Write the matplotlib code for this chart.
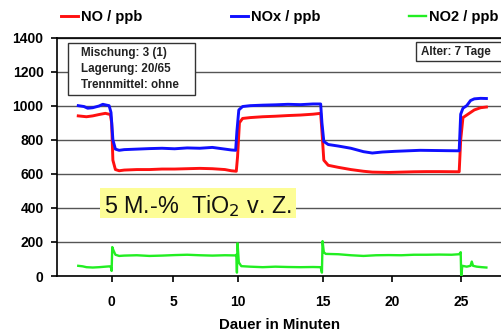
import numpy as np
import matplotlib
matplotlib.use("Agg")
import matplotlib.pyplot as plt
from matplotlib.patches import Rectangle

plt.rcParams["font.family"] = ["Liberation Sans", "DejaVu Sans"]

# x positions follow the category spacing of the original axis
tick_pos = [0, 4.89, 10.0, 16.75, 22.3, 27.78]
tick_labels = ["0", "5", "10", "15", "20", "25"]

nox_x = [-2.65, -2.2, -1.9, -1.5, -1.0, -0.7, -0.4, -0.2, -0.05, 0.1, 0.3, 0.6, 1, 2, 3, 4, 5, 6, 7, 8, 9,
         9.5, 9.85, 9.95, 10.1, 10.4, 11, 12, 13, 14, 15, 16, 16.6, 16.7, 16.85, 17.2, 18, 19, 20, 20.7,
         21.5, 22.5, 23.5, 24.5, 25.5, 26.5, 27.6, 27.72, 27.9, 28.2, 28.5, 28.8, 29.3, 29.76]
nox_y = [1000, 995, 985, 988, 998, 1008, 1003, 1000, 960, 800, 745, 738, 742, 745, 748, 750, 747, 752, 750,
         755, 745, 740, 738, 850, 975, 995, 1000, 1003, 1005, 1008, 1006, 1010, 1010, 900, 790, 772, 763,
         750, 730, 722, 728, 732, 735, 738, 737, 736, 735, 950, 985, 1000, 1030, 1040, 1043, 1042]

no_x = [-2.65, -2.0, -1.5, -1.0, -0.5, -0.1, 0.0, 0.1, 0.3, 0.6, 1, 2, 3, 4, 5, 6, 7, 8, 9, 9.5, 9.9,
        10.0, 10.15, 10.4, 11, 12, 13, 14, 15, 16, 16.6, 16.7, 16.85, 17.2, 18, 19, 20, 20.7, 22, 23, 24,
        25, 26, 27.6, 27.72, 27.9, 28.2, 28.5, 28.8, 29.3, 29.76]
no_y = [940, 935, 940, 948, 955, 948, 900, 680, 625, 618, 622, 625, 625, 628, 628, 630, 632, 630, 625, 618,
        615, 700, 900, 925, 930, 935, 938, 942, 945, 950, 955, 850, 680, 650, 638, 625, 615, 610, 608, 610,
        612, 613, 613, 612, 800, 930, 945, 960, 975, 988, 992]

no2_x = [-2.65, -2.3, -2.0, -1.5, -1.0, -0.5, -0.15, -0.05, 0.0, 0.05, 0.15, 0.3, 0.6, 1, 2, 3, 4, 5, 6, 7,
         8, 9, 9.8, 9.9, 9.95, 10.0, 10.1, 10.3, 11, 12, 13, 14, 15, 16, 16.6, 16.7, 16.75, 16.85, 17, 18,
         19, 20, 21, 22, 23, 24, 25, 26, 27, 27.6, 27.72, 27.76, 27.85, 28.2, 28.5, 28.6, 28.7, 29, 29.4, 29.76]
no2_y = [60, 57, 52, 50, 52, 55, 57, 50, 30, 170, 150, 125, 118, 120, 122, 118, 120, 123, 125, 122, 120, 122,
         121, 125, 20, 192, 80, 58, 55, 52, 55, 53, 52, 53, 52, 20, 205, 140, 130, 128, 122, 118, 122, 123,
         122, 125, 125, 126, 125, 128, 140, 0, 60, 55, 60, 85, 60, 55, 52, 50]

fig = plt.figure(figsize=(5.02, 3.35), dpi=100)
ax = fig.add_axes([0.1145, 0.176, 0.8855, 0.712])

ax.set_ylim(0, 1400)
ax.set_xlim(-4.3, 31.0)
ax.set_yticks(range(0, 1401, 200))
ax.set_xticks(tick_pos)
ax.set_xticklabels(tick_labels)
ax.yaxis.grid(True, color="#555555", linewidth=1.0, zorder=0)
ax.set_axisbelow(True)

ax.spines["right"].set_visible(False)
ax.spines["top"].set_linewidth(1.2)
ax.spines["left"].set_linewidth(1.2)
ax.spines["bottom"].set_linewidth(1.2)

ax.tick_params(axis="y", direction="out", length=4, width=1.2, pad=6, labelsize=10)
ax.tick_params(axis="x", direction="out", length=4, width=1.2, pad=10, labelsize=10)
for lab in ax.get_xticklabels() + ax.get_yticklabels():
    lab.set_fontweight("bold")

l1, = ax.plot(no_x, no_y, color="#ff1010", lw=2.1, label="NO / ppb", zorder=3)
l2, = ax.plot(nox_x, nox_y, color="#1010ff", lw=2.1, label="NOx / ppb", zorder=3)
l3, = ax.plot(no2_x, no2_y, color="#22ee22", lw=1.7, label="NO2 / ppb", zorder=3)

ax.set_xlabel("Dauer in Minuten", fontsize=10.8, fontweight="bold", labelpad=6)

fig.legend(handles=[l1, l2, l3], loc="upper left", bbox_to_anchor=(0.101, 1.0, 0.912, 0.0),
           mode="expand", ncol=3, frameon=False, handlelength=1.15, handletextpad=0.2,
           prop={"weight": "bold", "size": 10.5}, borderaxespad=0.3)

# info box
ax.add_patch(Rectangle((0.0236, 0.759), 0.2854, 0.218, transform=ax.transAxes,
                       facecolor="white", edgecolor="#333333", lw=1.0, zorder=4))
ax.text(0.053, 0.96, "Mischung: 3 (1)\nLagerung: 20/65\nTrennmittel: ohne", transform=ax.transAxes,
        ha="left", va="top", fontsize=8.4, fontweight="bold", color="#222222", linespacing=1.45, zorder=5)

ax.add_patch(Rectangle((0.8065, 0.9015), 0.25, 0.0795, transform=ax.transAxes, clip_on=False,
                       facecolor="white", edgecolor="#333333", lw=1.0, zorder=4))
ax.text(0.818, 0.941, "Alter: 7 Tage", transform=ax.transAxes, ha="left", va="center",
        fontsize=8.4, fontweight="bold", color="#222222", zorder=5)

# yellow label
ax.add_patch(Rectangle((0.0956, 0.243), 0.4414, 0.126, transform=ax.transAxes,
                       facecolor="#fdfd96", edgecolor="none", zorder=4))
ax.text(0.105, 0.262, "5 M.-%  TiO$_2$ v. Z.", transform=ax.transAxes, ha="left", va="baseline",
        fontsize=16.8, color="#111111", zorder=5)

fig.savefig("out.png", dpi=100)
